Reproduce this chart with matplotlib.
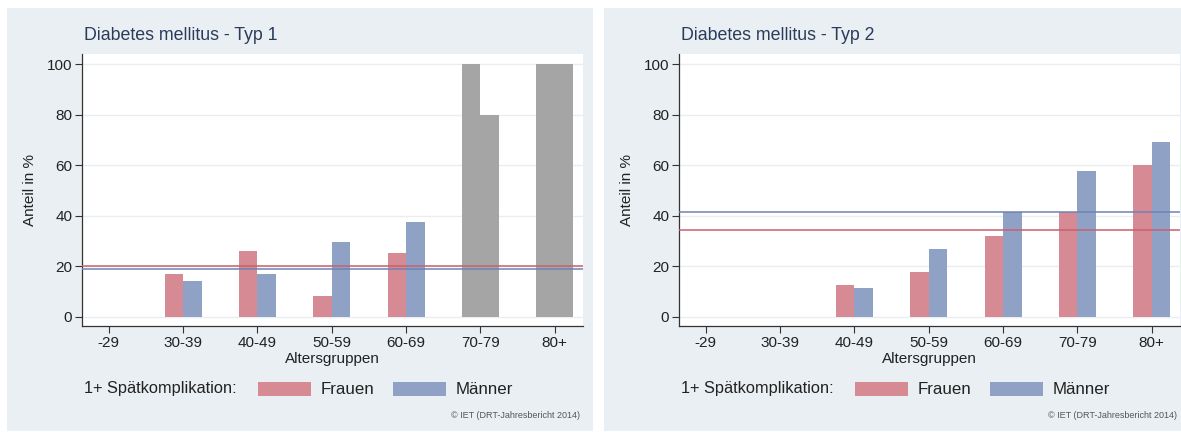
import matplotlib.pyplot as plt
from matplotlib.patches import Rectangle
import numpy as np

plt.rcParams['font.family'] = ['Liberation Sans', 'DejaVu Sans']

# Data
groups = ["-29", "30-39", "40-49", "50-59", "60-69", "70-79", "80+"]
typ1_frauen = [0, 16.7, 26.1, 8.3, 25.1, 100, 100]
typ1_maenner = [0, 14.3, 16.7, 29.4, 37.5, 80, 100]
typ1_grau = [False, False, False, False, False, True, True]
typ1_mean_frauen = 19.9
typ1_mean_maenner = 18.8

typ2_frauen = [0, 0, 12.5, 17.5, 31.8, 41.4, 59.9]
typ2_maenner = [0, 0, 11.5, 26.8, 41.4, 57.5, 69.1]
typ2_grau = [False] * 7
typ2_mean_frauen = 34.3
typ2_mean_maenner = 41.4

titles = ["Diabetes mellitus - Typ 1", "Diabetes mellitus - Typ 2"]

W, H = 1181, 432
c_bg = "#e9eff2"
c_frauen = "#d68b94"
c_maenner = "#8fa1c5"
c_grau = "#a5a5a5"
c_line_f = "#c8606e"
c_line_m = "#6f82b0"
c_title = "#2a3b5c"
c_text = "#222222"

fig = plt.figure(figsize=(W / 100, H / 100), dpi=100)


def fx(px):
    return px / W


def fy(py):
    return 1 - py / H


panels = [
    (7, 593, 82, titles[0], typ1_frauen, typ1_maenner, typ1_grau, typ1_mean_frauen, typ1_mean_maenner),
    (604, 1181, 679, titles[1], typ2_frauen, typ2_maenner, typ2_grau, typ2_mean_frauen, typ2_mean_maenner),
]

x = np.arange(1, len(groups) + 1)
bw = 0.25

for (p0, p1, ax0, title, fr, ma, grau, mf, mm) in panels:
    fig.add_artist(Rectangle((fx(p0), fy(431)), fx(p1 - p0), (431 - 8) / H,
                             transform=fig.transFigure, facecolor=c_bg, edgecolor="none", zorder=0))
    ax = fig.add_axes([fx(ax0), fy(326), fx(501), (326 - 54) / H])
    ax.set_facecolor("white")
    cf = [c_grau if g else c_frauen for g in grau]
    cm = [c_grau if g else c_maenner for g in grau]
    ax.bar(x - bw / 2, fr, width=bw, color=cf, zorder=2)
    ax.bar(x + bw / 2, ma, width=bw, color=cm, zorder=2)
    ax.axhline(mf, color=c_line_f, lw=1.1, zorder=3)
    ax.axhline(mm, color=c_line_m, lw=1.1, zorder=3)
    ax.set_xlim(0.64, 7.38)
    ax.set_ylim(-3.7, 104)
    ax.set_yticks([0, 20, 40, 60, 80, 100])
    ax.set_xticks(x)
    ax.set_xticklabels(groups)
    ax.grid(axis="y", color="#e9eef1", lw=1.0, zorder=1)
    ax.set_axisbelow(True)
    for s in ["top", "right"]:
        ax.spines[s].set_visible(False)
    for s in ["left", "bottom"]:
        ax.spines[s].set_color("#333333")
        ax.spines[s].set_linewidth(0.9)
    ax.tick_params(length=5, width=0.8, color="#333333", labelsize=11, labelcolor=c_text, pad=2)
    ax.set_xlabel("Altersgruppen", fontsize=11, color=c_text, labelpad=2)
    ax.set_ylabel("Anteil in %", fontsize=11, color=c_text, labelpad=7)

    fig.text(fx(ax0 + 2), fy(35), title, fontsize=12.8, color=c_title, va="center", ha="left")
    # legend
    fig.text(fx(ax0 + 2), fy(389), "1+ Spätkomplikation:", fontsize=11.8, color=c_text, va="center")
    for off, col, lab in [(176, c_frauen, "Frauen"), (311, c_maenner, "Männer")]:
        fig.add_artist(Rectangle((fx(ax0 + off), fy(396)), fx(53), 14 / H,
                                 transform=fig.transFigure, facecolor=col, edgecolor="none"))
        fig.text(fx(ax0 + off + 63), fy(389), lab, fontsize=12.2, color=c_text, va="center")
    fig.text(fx(ax0 + 498), fy(415), "© IET (DRT-Jahresbericht 2014)", fontsize=6.5,
             color="#555555", ha="right", va="center")

fig.savefig("out.png", dpi=100, facecolor="white")
